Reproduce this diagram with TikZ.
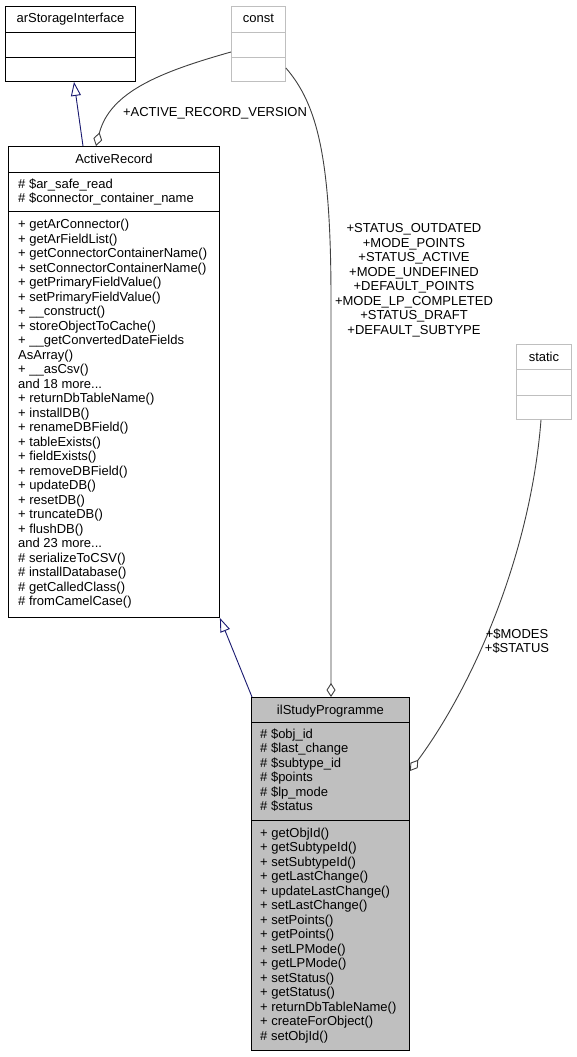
\documentclass[tikz,border=0pt]{standalone}
\usepackage{fontspec}
\setmainfont{Liberation Sans}
\usetikzlibrary{arrows.meta,calc}
\definecolor{midnight}{HTML}{191970}
\definecolor{reldark}{HTML}{404040}
\definecolor{boxgrey}{HTML}{BFBFBF}
\newcommand\mythreedots{...}
\begin{document}
\begin{tikzpicture}[x=1pt,y=-1pt,
  cls/.style={draw=black,line width=0.9pt,inner sep=0pt,anchor=north west},
  ghost/.style={draw=boxgrey,line width=0.9pt,inner sep=0pt,anchor=north west},
  sepline/.style={line width=0.9pt},
  ghostsep/.style={draw=boxgrey,line width=0.9pt},
  txt/.style={inner sep=0pt,anchor=base west,font=\fontsize{13}{14.5}\selectfont},
  ttl/.style={inner sep=0pt,anchor=base,font=\fontsize{13}{14.5}\selectfont},
  lbl/.style={inner sep=0pt,align=center,anchor=base,font=\fontsize{13}{14.5}\selectfont},
  inherit/.style={draw=midnight,line width=0.9pt,-{Triangle[open,length=14pt,width=10pt]}},
  rel/.style={draw=reldark,line width=0.9pt,-{Diamond[open,length=14pt,width=9pt]}}
]
\useasboundingbox[fill=white] (0,0) rectangle (576,1057);

% arStorageInterface
\node[cls,minimum width=130pt,minimum height=75pt] (asi) at (5,6) {};
\draw[sepline] ($(asi.north west)+(0,26)$) -- ($(asi.north east)+(0,26)$);
\draw[sepline] ($(asi.north west)+(0,51)$) -- ($(asi.north east)+(0,51)$);
\node[ttl] (asit) at ($(asi.north)+(0,17)$) {arStorageInterface};

% const
\node[ghost,minimum width=54pt,minimum height=75pt] (const) at (231,6) {};
\draw[ghostsep] ($(const.north west)+(0,26)$) -- ($(const.north east)+(0,26)$);
\draw[ghostsep] ($(const.north west)+(0,51)$) -- ($(const.north east)+(0,51)$);
\node[ttl] (constt) at ($(const.north)+(0,17)$) {const};

% static
\node[ghost,minimum width=55pt,minimum height=75pt] (static) at (516,344) {};
\draw[ghostsep] ($(static.north west)+(0,25)$) -- ($(static.north east)+(0,25)$);
\draw[ghostsep] ($(static.north west)+(0,51)$) -- ($(static.north east)+(0,51)$);
\node[ttl] (statict) at ($(static.north)+(0,17)$) {static};

% ActiveRecord
\node[cls,minimum width=211pt,minimum height=471pt] (ar) at (8,146) {};
\draw[sepline] ($(ar.north west)+(0,26)$) -- ($(ar.north east)+(0,26)$);
\draw[sepline] ($(ar.north west)+(0,65)$) -- ($(ar.north east)+(0,65)$);
\node[ttl] (art) at ($(ar.north)+(0,17)$) {ActiveRecord};
\foreach \t [count=\i from 0] in {{\# \$ar\_safe\_read},{\# \$connector\_container\_name}}
  \node[txt] (ara\i) at ($(ar.north west)+(10,{42+14.5*\i})$) {\t};
\foreach \t [count=\i from 0] in {
  {+ getArConnector()},{+ getArFieldList()},{+ getConnectorContainerName()},
  {+ setConnectorContainerName()},{+ getPrimaryFieldValue()},{+ setPrimaryFieldValue()},
  {+ \_\_construct()},{+ storeObjectToCache()},{+ \_\_getConvertedDateFields},
  {AsArray()},{+ \_\_asCsv()},{and 18 more\mythreedots},{+ returnDbTableName()},{+ installDB()},
  {+ renameDBField()},{+ tableExists()},{+ fieldExists()},{+ removeDBField()},
  {+ updateDB()},{+ resetDB()},{+ truncateDB()},{+ flushDB()},{and 23 more\mythreedots},
  {\# serializeToCSV()},{\# installDatabase()},{\# getCalledClass()},{\# fromCamelCase()}}
  \node[txt] (arm\i) at ($(ar.north west)+(10,{82.5+14.5*\i})$) {\t};

% ilStudyProgramme
\node[cls,fill=boxgrey,minimum width=158pt,minimum height=353pt] (isp) at (251,697) {};
\draw[sepline] ($(isp.north west)+(0,25)$) -- ($(isp.north east)+(0,25)$);
\draw[sepline] ($(isp.north west)+(0,123)$) -- ($(isp.north east)+(0,123)$);
\node[ttl] (ispt) at ($(isp.north)+(0,17)$) {ilStudyProgramme};
\foreach \t [count=\i from 0] in {{\# \$obj\_id},{\# \$last\_change},{\# \$subtype\_id},
  {\# \$points},{\# \$lp\_mode},{\# \$status}}
  \node[txt] (ispa\i) at ($(isp.north west)+(9,{41+14.5*\i})$) {\t};
\foreach \t [count=\i from 0] in {
  {+ getObjId()},{+ getSubtypeId()},{+ setSubtypeId()},{+ getLastChange()},
  {+ updateLastChange()},{+ setLastChange()},{+ setPoints()},{+ getPoints()},
  {+ setLPMode()},{+ getLPMode()},{+ setStatus()},{+ getStatus()},
  {+ returnDbTableName()},{+ createForObject()},{\# setObjId()}}
  \node[txt] (ispm\i) at ($(isp.north west)+(9,{140+14.5*\i})$) {\t};

% connectors
\draw[inherit] ($(ar.north west)+(75,0)$) -- ($(asi.south west)+(69,0)$);
\draw[inherit] ($(isp.north west)+(1,0)$) -- (ar.south east);
\draw[rel] ($(const.north west)+(0,46)$) .. controls (160,72) and (110,92) .. ($(ar.north west)+(88,0)$);
\draw[rel] ($(const.north east)+(0,62)$) .. controls (318,105) and (331,160) .. (331,300) -- ($(isp.north west)+(80,0)$);
\draw[rel] ($(static.south west)+(25,0)$) .. controls (530,560) and (470,690) .. ($(isp.north east)+(0,74)$);

% labels
\node[lbl] (l1) at (215,116.5) {+ACTIVE\_RECORD\_VERSION};
\node[lbl] (l2) at (414,334) {+STATUS\_OUTDATED\\+MODE\_POINTS\\+STATUS\_ACTIVE\\+MODE\_UNDEFINED\\+DEFAULT\_POINTS\\+MODE\_LP\_COMPLETED\\+STATUS\_DRAFT\\+DEFAULT\_SUBTYPE};
\node[lbl] (l3) at (517,652.5) {+\$MODES\\+\$STATUS};
\end{tikzpicture}
\end{document}
